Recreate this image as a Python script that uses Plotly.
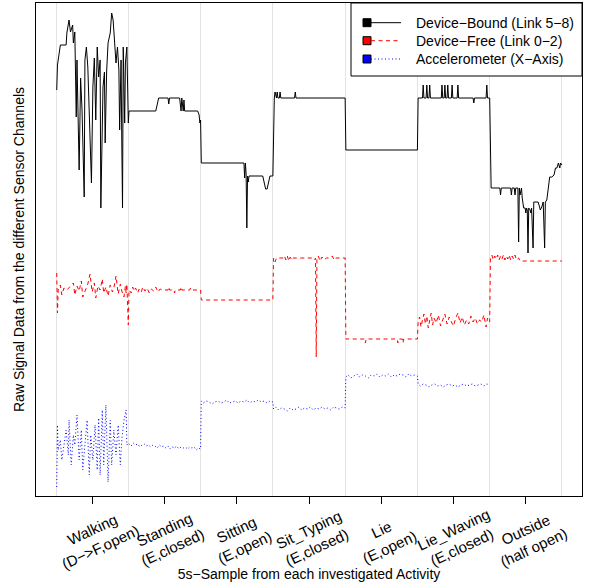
import plotly.graph_objects as go

# ---------------- data (sample index 1..700, arbitrary signal units) ----------------
activities = ["Walking<br>(D−>F,open)", "Standing<br>(E,closed)", "Sitting<br>(E,open)",
              "Sit_Typing<br>(E,closed)", "Lie<br>(E,open)", "Lie_Waving<br>(E,closed)",
              "Outside<br>(half open)"]
tick_pos = [50, 150, 250, 350, 450, 550, 650]
boundaries = [0, 100, 200, 300, 400, 500, 600, 700]

bound_x = [1, 2, 6, 14, 15, 18, 20, 23, 24, 26, 28, 29, 32, 34, 36, 39, 40, 42, 44, 46,
           48, 49, 51, 53, 55, 57, 59, 61, 62, 65, 67, 68, 70, 72, 75, 77, 79, 81, 83, 85,
           87, 88, 90, 91, 92, 93, 95, 96, 98, 100, 101,
           138, 140, 142, 155, 156, 157, 171, 173, 174, 176, 177, 178, 183, 196, 198, 199, 200,
           201, 260, 261, 262, 263, 264, 265, 266, 267, 286, 288, 290, 292, 294, 296, 300,
           301, 302, 303, 304, 305, 306, 307, 309, 310, 311, 330, 331, 332, 400,
           401, 500,
           501, 507, 508, 509, 512, 513, 514, 516, 517, 518, 533, 534, 535, 537, 538, 539,
           541, 542, 543, 547, 548, 549, 555, 556, 557, 577, 578, 579, 595, 596, 597, 600,
           601, 602, 614, 615, 616, 629, 630, 631, 634, 635, 636, 639, 640, 641, 642, 643, 644,
           645, 647, 649, 650, 651, 652, 653, 654, 656, 657, 658, 660, 661, 664, 667, 669, 670,
           672, 673, 674, 676, 677, 679, 681, 683, 686, 689, 691, 693, 695, 697, 698, 700]
bound_y = [410, 435, 455, 455, 467, 480, 468, 475, 457, 468, 383, 440, 330, 422, 390, 303, 440, 453, 433, 377,
           343, 317, 413, 442, 380, 453, 423, 440, 292, 413, 428, 357, 428, 457, 467, 487, 480, 457, 437, 453,
           430, 370, 440, 357, 292, 453, 377, 437, 453, 377, 389,
           389, 396, 402, 402, 396, 402, 402, 389, 402, 389, 400, 389, 389, 389, 385, 377, 380,
           337, 337, 322, 337, 326, 272, 324, 318, 324, 324, 318, 311, 311, 318, 324, 324,
           402, 402, 408, 402, 402, 408, 402, 402, 408, 402, 402, 408, 402, 402,
           350, 350,
           402, 402, 415, 402, 402, 415, 402, 402, 415, 402, 402, 415, 402, 402, 415, 402,
           402, 415, 402, 402, 415, 402, 402, 415, 402, 402, 397, 402, 402, 415, 402, 402,
           317, 312, 312, 305, 312, 312, 305, 312, 312, 305, 312, 312, 258, 312, 305, 312, 312,
           302, 292, 292, 287, 292, 290, 247, 292, 290, 287, 292, 252, 298, 298, 298, 293, 290,
           293, 298, 298, 252, 298, 300, 310, 323, 323, 325, 332, 332, 337, 332, 337, 335]

free_x = [1, 2, 3, 6, 8, 11, 15, 19, 24, 26, 29, 32, 35, 37, 42, 44, 47, 50, 53, 55,
          58, 61, 64, 66, 69, 72, 75, 78, 80, 83, 86, 89, 91, 94, 96, 97, 98, 100,
          101, 104, 106, 108, 110, 113, 115, 118, 120, 123, 126, 129, 132, 135, 138, 141, 144, 147,
          155, 156, 157, 163, 164, 165, 172, 173, 174, 185, 186, 187, 200,
          201, 300,
          301, 303, 305, 315, 316, 318, 320, 322, 324, 326, 328, 340, 355, 358, 359, 360, 361,
          363, 365, 368, 371, 374, 378, 382, 385, 387, 400,
          401, 427, 428, 429, 472, 473, 474, 479, 480, 481, 500,
          501, 503, 505, 507, 509, 511, 513, 515, 517, 519, 521, 523, 526, 529, 532, 535, 538,
          541, 544, 547, 550, 553, 556, 559, 562, 565, 568, 571, 574, 577, 580, 583, 586, 589,
          592, 595, 597, 600,
          601, 603, 605, 607, 609, 611, 613, 615, 617, 619, 621, 623, 625, 627, 629, 631, 633,
          635, 637, 640, 642, 700]
free_y = [227, 187, 210, 215, 205, 212, 210, 213, 217, 205, 214, 209, 219, 203, 213, 216, 226, 208, 217, 202,
          214, 210, 221, 207, 213, 204, 215, 208, 212, 224, 206, 216, 209, 203, 214, 207, 216, 175,
          210, 207, 213, 209, 212, 207, 211, 208, 213, 209, 212, 207, 211, 209, 213, 208, 211, 210,
          210, 213, 210, 210, 207, 210, 210, 213, 210, 210, 212, 210, 210,
          200, 200,
          242, 238, 242, 242, 244, 240, 244, 239, 243, 240, 242, 242, 242, 240, 242, 143, 242,
          244, 239, 243, 240, 242, 242, 244, 240, 242, 242,
          161, 161, 157, 161, 161, 157, 161, 161, 157, 161, 161,
          178, 183, 173, 180, 186, 176, 184, 172, 181, 187, 175, 182, 177, 185, 174, 181, 186,
          176, 183, 178, 174, 182, 187, 177, 183, 175, 180, 176, 184, 178, 182, 176, 180, 178,
          185, 173, 182, 178,
          242, 245, 240, 244, 241, 245, 240, 244, 241, 245, 240, 244, 241, 245, 240, 244, 241,
          245, 240, 242, 239, 239]

acc_x = [1, 2, 3, 6, 8, 11, 14, 17, 18, 21, 24, 26, 29, 32, 35, 37, 40, 43, 46, 48,
         51, 54, 57, 59, 61, 64, 66, 69, 72, 75, 77, 80, 83, 86, 89, 91, 94, 97, 98, 100,
         101, 104, 107, 110, 113, 116, 119, 122, 125, 128, 131, 134, 137, 140, 143, 146, 149,
         152, 155, 158, 161, 164, 167, 170, 173, 176, 179, 182, 185, 188, 191, 194, 197, 200,
         201, 204, 208, 212, 216, 220, 224, 228, 232, 236, 240, 244, 248, 252, 256, 260, 264,
         268, 272, 276, 280, 284, 288, 292, 296, 300,
         301, 304, 308, 312, 316, 320, 324, 328, 332, 336, 340, 344, 348, 352, 356, 360, 364,
         368, 372, 376, 380, 384, 388, 392, 396, 400,
         401, 404, 408, 412, 416, 420, 424, 428, 432, 436, 440, 444, 448, 452, 456, 460, 464,
         468, 472, 476, 480, 484, 488, 492, 496, 500,
         501, 504, 508, 512, 516, 520, 524, 528, 532, 536, 540, 544, 548, 552, 556, 560, 564,
         568, 572, 576, 580, 584, 588, 592, 596, 600]
acc_y = [13, 75, 50, 60, 40, 55, 70, 45, 80, 35, 65, 55, 85, 40, 70, 30, 60, 80, 25, 65,
         40, 75, 30, 82, 25, 90, 35, 95, 18, 80, 35, 70, 45, 75, 35, 60, 80, 90, 55, 57,
         56, 54, 57, 55, 56, 53, 55, 56, 54, 55, 53, 55, 54, 52, 55, 53, 54,
         52, 54, 51, 53, 52, 54, 51, 53, 52, 53, 51, 53, 52, 53, 50, 52, 51,
         99, 97, 99, 98, 96, 98, 99, 97, 98, 100, 97, 98, 99, 97, 99, 98, 100,
         97, 99, 98, 100, 98, 99, 97, 99, 98,
         91, 93, 90, 92, 91, 89, 92, 90, 91, 93, 90, 92, 91, 93, 90, 92, 91,
         93, 91, 92, 90, 93, 92, 91, 93, 92,
         123, 125, 122, 124, 126, 123, 125, 124, 122, 125, 124, 126, 123, 125, 124, 126, 123,
         125, 124, 126, 125, 123, 126, 124, 125, 124,
         116, 114, 116, 115, 113, 115, 116, 114, 115, 113, 115, 116, 114, 115, 113, 115, 116,
         114, 115, 116, 114, 115, 116, 114, 116, 115]

series_names = ["Device−Bound (Link 5−8)", "Device−Free (Link 0−2)", "Accelerometer (X−Axis)"]
series_colors = ["#000000", "#FF0000", "#0000FF"]
series_dash = ["solid", "4px,3.5px", "1px,2.5px"]

FONT = "Liberation Sans, Arial, Helvetica, sans-serif"

fig = go.Figure()
for xs, ys, name, col, dash in zip([bound_x, free_x, acc_x], [bound_y, free_y, acc_y],
                                   series_names, series_colors, series_dash):
    fig.add_trace(go.Scatter(x=xs, y=ys, mode="lines", name=name, showlegend=False,
                             hoverinfo="skip",
                             line=dict(color=col, width=1, dash=dash)))

# tick labels (rotated, centred on ticks)
for pos, lab in zip(tick_pos, activities):
    fig.add_annotation(x=pos + 6, y=-0.087, xref="x", yref="paper", text=lab,
                       showarrow=False, textangle=-25, xanchor="center", yanchor="middle",
                       align="center", font=dict(family=FONT, size=15, color="black"))

# manual R-style legend (box, filled squares, line samples, text)
def px2x(px):
    return (px - 36) / 546.0

def py2y(py):
    return (496 - py) / 493.0

fig.add_shape(type="rect", xref="paper", yref="paper", x0=px2x(351), x1=1.0,
              y0=py2y(76), y1=1.0, line=dict(color="black", width=1), fillcolor="white")
rows = [22.7, 40.7, 59.0]
for r, name, col, dash in zip(rows, series_names, series_colors, series_dash):
    fig.add_shape(type="rect", xref="paper", yref="paper", x0=px2x(363), x1=px2x(371),
                  y0=py2y(r + 4), y1=py2y(r - 4), line=dict(color="black", width=1),
                  fillcolor=col)
    fig.add_shape(type="line", xref="paper", yref="paper", x0=px2x(371), x1=px2x(401),
                  y0=py2y(r), y1=py2y(r), line=dict(color=col, width=1, dash=dash))
    fig.add_annotation(x=px2x(414), y=py2y(r), xref="paper", yref="paper", text=name,
                       showarrow=False, xanchor="left", yanchor="middle",
                       font=dict(family=FONT, size=14, color="black"))

fig.update_layout(
    width=592, height=585,
    margin=dict(l=36, r=10, t=3, b=89, autoexpand=False),
    paper_bgcolor="white", plot_bgcolor="white",
    font=dict(family=FONT, size=14, color="black"),
    showlegend=False,
    xaxis=dict(range=[-27.7, 727.7], tickvals=tick_pos, ticktext=[""] * len(tick_pos),
               showticklabels=False, ticks="outside", ticklen=7, tickcolor="black",
               showgrid=False, zeroline=False, showline=True, linecolor="black",
               linewidth=1, mirror=True, automargin=False,
               minor=dict(tick0=0, dtick=100, showgrid=True, gridcolor="#E3E3E3",
                          gridwidth=1, ticks=""),
               title=dict(text="5s−Sample from each investigated Activity",
                          font=dict(family=FONT, size=14), standoff=66)),
    yaxis=dict(range=[4, 497], showticklabels=False, ticks="", showgrid=False,
               zeroline=False, showline=True, linecolor="black", linewidth=1, mirror=True,
               automargin=False,
               title=dict(text="Raw Signal Data from the different Sensor Channels",
                          font=dict(family=FONT, size=14), standoff=7)),
)

fig.write_html("out.html", config={"displayModeBar": False},
               post_script="document.body.style.margin='0';document.body.style.padding='0';")
